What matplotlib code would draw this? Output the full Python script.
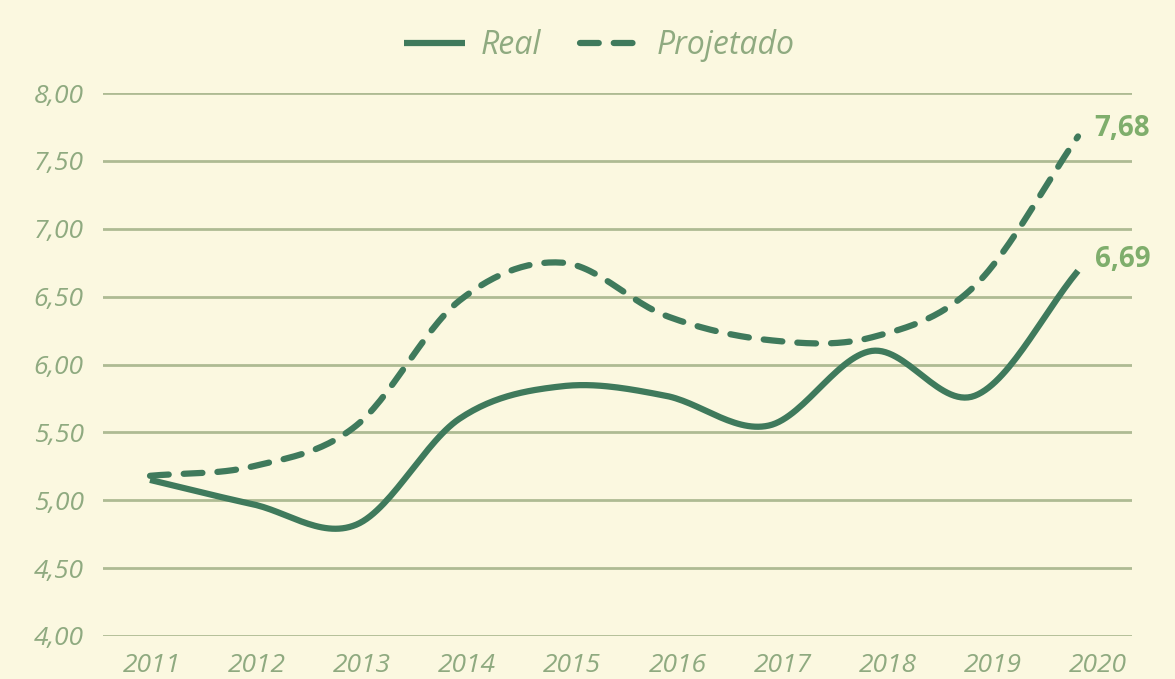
import numpy as np
import matplotlib
matplotlib.use("Agg")
import matplotlib.pyplot as plt

anos = [2011, 2012, 2013, 2014, 2015, 2016, 2017, 2018, 2019, 2020]
real = [5.15, 4.97, 4.82, 5.60, 5.84, 5.77, 5.55, 6.10, 5.77, 6.69]
projetado = [5.18, 5.25, 5.55, 6.47, 6.75, 6.36, 6.18, 6.20, 6.58, 7.68]
yticks = [4.0, 4.5, 5.0, 5.5, 6.0, 6.5, 7.0, 7.5, 8.0]

fundo = "#FBF8E0"
verde = "#3F7A5C"
verde_claro = "#7FAE6C"
texto = "#8FAA80"
grade = "#AEBB93"


def suave(x, y, n=30):
    # catmull-rom so pra desenhar a curva
    x = np.asarray(x, float)
    y = np.asarray(y, float)
    xp = np.concatenate([[2 * x[0] - x[1]], x, [2 * x[-1] - x[-2]]])
    yp = np.concatenate([[2 * y[0] - y[1]], y, [2 * y[-1] - y[-2]]])
    xs, ys = [], []
    for i in range(1, len(xp) - 2):
        t = np.linspace(0, 1, n, endpoint=False)
        for arr, out in ((xp, xs), (yp, ys)):
            p0, p1, p2, p3 = arr[i - 1], arr[i], arr[i + 1], arr[i + 2]
            out.extend(0.5 * ((2 * p1) + (-p0 + p2) * t
                              + (2 * p0 - 5 * p1 + 4 * p2 - p3) * t ** 2
                              + (-p0 + 3 * p1 - 3 * p2 + p3) * t ** 3))
    xs.append(x[-1])
    ys.append(y[-1])
    return np.array(xs), np.array(ys)


fig = plt.figure(figsize=(11.75, 6.79), dpi=100, facecolor=fundo)
ax = fig.add_axes([103 / 1175, 1 - 636 / 679, 1029 / 1175, (636 - 93) / 679])
ax.set_facecolor(fundo)

xr, yr = suave(anos, real)
xp, yp = suave(anos, projetado)
ax.plot(xr, yr, color=verde, lw=4.5, solid_capstyle="butt", label="Real")
ax.plot(xp, yp, color=verde, lw=4.5, ls=(0, (3, 2.4)), dash_capstyle="round", label="Projetado")

ax.set_xlim(2010.544, 2020.524)
ax.set_ylim(4, 8)
ax.set_yticks(yticks)
ax.set_yticklabels([f"{v:.2f}".replace(".", ",") for v in yticks])
# rotulos do eixo x ficam um pouco mais espalhados que os pontos
ax.set_xticks([a + 0.02 + 0.019 * (a - 2011) for a in anos])
ax.set_xticklabels([str(a) for a in anos])
ax.grid(axis="y", color=grade, lw=2)
ax.set_axisbelow(True)
for s in ax.spines.values():
    s.set_visible(False)
ax.tick_params(length=0, colors=texto, labelsize=19)
ax.tick_params(axis="y", pad=14)
ax.tick_params(axis="x", pad=12)
for lab in ax.get_xticklabels() + ax.get_yticklabels():
    lab.set_fontstyle("italic")
    lab.set_fontfamily("Open Sans")

ax.annotate("7,68", (anos[-1], projetado[-1]), xytext=(12, 6), textcoords="offset points",
            color=verde_claro, fontsize=20, fontweight="bold", va="center", family="Open Sans")
ax.annotate("6,69", (anos[-1], real[-1]), xytext=(12, 8), textcoords="offset points",
            color=verde_claro, fontsize=20, fontweight="bold", va="center", family="Open Sans")
for l in ax.get_lines():
    l.set_clip_on(False)

leg = fig.legend(loc="upper center", bbox_to_anchor=(0.51, 1.0), ncol=2, frameon=False,
                 handlelength=1.9, columnspacing=1.2, handletextpad=0.5,
                 prop={"family": "Open Sans", "style": "italic", "size": 23})
for t in leg.get_texts():
    t.set_color(texto)

fig.savefig("out.png", dpi=100, facecolor=fundo)
